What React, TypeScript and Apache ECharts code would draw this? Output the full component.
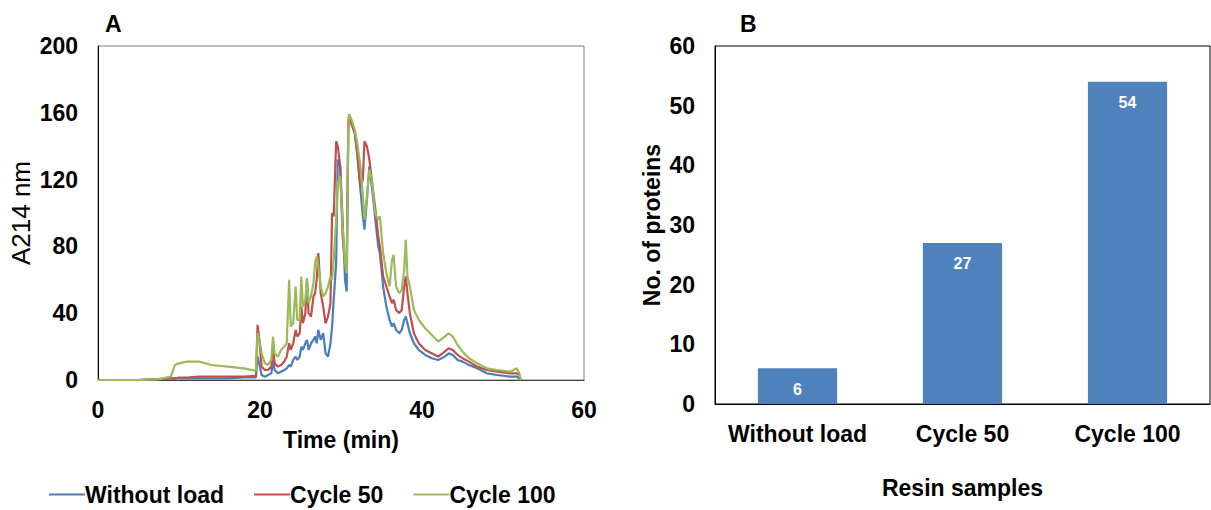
import React, { useEffect, useRef } from "react";
import * as echarts from "echarts";

// ---- Panel A data: chromatogram (Time in min, A214 nm) ----
const timeMin = [
  0, 5, 7.5, 9.0, 9.5, 10.0, 11.0, 12.5, 14.0, 16.0, 18.0, 19.5, 19.7, 19.9, 20.2, 20.6, 21.0, 21.4, 21.6, 21.8,
  22.2, 22.6, 23.0, 23.3, 23.6, 23.8, 24.1, 24.4, 24.6, 24.9, 25.1, 25.3, 25.6, 25.8, 26.0, 26.3, 26.6, 26.8, 27.0, 27.2,
  27.5, 27.8, 28.1, 28.4, 28.7, 28.9, 29.1, 29.4, 29.6, 29.9, 30.2, 30.5, 30.7, 30.9, 31.0, 31.3, 31.7, 32.0, 32.4, 32.7,
  32.9, 33.2, 33.5, 33.8, 34.2, 34.6, 34.8, 35.2, 35.6, 36.0, 36.3, 36.5, 36.8, 37.2, 37.5, 37.8, 38.0, 38.2, 38.5, 39.0,
  39.6, 40.4, 41.2, 42.0, 42.8, 43.3, 43.8, 44.4, 45.0, 45.8, 46.8, 48.0, 49.3, 50.9, 51.7, 52.0, 52.2,
];
const withoutLoad = [
  0, 0, 0.5, 1, 1, 1, 1, 1, 1, 1, 1.5, 1.5, 14, 10, 3, 2, 3, 4, 12, 6,
  4, 5, 6, 7, 9, 8, 12, 14, 12, 14, 20, 18, 22, 24, 18, 22, 24, 26, 22, 30,
  24, 28, 16, 14, 22, 32, 48, 70, 132, 128, 96, 60, 53, 150, 159, 154, 148, 136, 114, 98,
  90, 108, 128, 116, 98, 80, 76, 56, 44, 36, 32, 34, 30, 28, 30, 36, 38, 34, 28, 22,
  18, 15, 13, 12, 14, 16, 15, 12, 11, 9, 7, 4, 3, 2, 2, 1, 0,
];
const cycle50 = [
  0, 0, 0.5, 1, 1, 1.5, 1.5, 2, 2, 2, 2, 2.5, 33, 25, 8, 6, 6, 8, 22, 10,
  8, 9, 11, 14, 22, 18, 22, 30, 26, 28, 44, 34, 40, 60, 40, 38, 50, 52, 60, 76,
  52, 44, 34, 38, 46, 100, 98, 143, 140, 128, 86, 70, 68, 152, 159, 153, 148, 136, 116, 120,
  143, 140, 132, 120, 104, 86, 80, 62, 56, 50, 46, 48, 42, 40, 42, 56, 62, 52, 40, 28,
  22, 18, 16, 14, 17, 19, 18, 15, 13, 11, 8, 6, 5, 4, 4, 3, 0,
];
const cycle100 = [
  0, 0, 0.5, 2, 9, 10, 11, 11, 9, 8, 7, 5.5, 28, 25, 16, 10, 9, 12, 26, 16,
  14, 18, 20, 22, 60, 32, 34, 56, 36, 36, 62, 44, 48, 61, 46, 50, 58, 70, 74, 68,
  56, 50, 52, 56, 62, 60, 72, 96, 118, 122, 92, 70, 64, 150, 159, 156, 150, 142, 128, 110,
  96, 110, 126, 120, 100, 96, 98, 76, 64, 56, 72, 75, 56, 52, 54, 66, 84, 62, 56, 42,
  36, 31, 27, 23, 26, 28, 26, 21, 17, 13, 10, 7, 6, 5, 7, 4, 0,
];
const lineSeriesNames = ["Without load", "Cycle 50", "Cycle 100"];
const lineColors = ["#4A7EBB", "#C0504D", "#9BBB59"];

// ---- Panel B data ----
const resinSamples = ["Without load", "Cycle 50", "Cycle 100"];
const proteinCounts = [6, 27, 54];

const FONT = "'Liberation Sans', Arial, sans-serif";

export default function App() {
  const ref = useRef<HTMLDivElement>(null);

  useEffect(() => {
    if (!ref.current) return;
    const chart = echarts.init(ref.current, null, { renderer: "svg" });
    const pairs = (ys: number[]) => timeMin.map((t, i) => [t, ys[i]]);
    const lineData = [withoutLoad, cycle50, cycle100];

    const tickLabel = { color: "#000", fontSize: 23, fontWeight: "bold" as const, fontFamily: FONT };

    chart.setOption({
      animation: false,
      backgroundColor: "#fff",
      textStyle: { fontFamily: FONT },
      title: [
        { text: "A", left: 100, top: 7, textStyle: { fontSize: 23, fontWeight: "bold", color: "#000", fontFamily: FONT } },
        { text: "B", left: 735, top: 7, textStyle: { fontSize: 23, fontWeight: "bold", color: "#000", fontFamily: FONT } },
      ],
      legend: {
        data: lineSeriesNames,
        left: 44,
        top: 478,
        itemWidth: 36,
        itemHeight: 14,
        itemGap: 30,
        icon: "path://M0,6 L34,6 L34,8 L0,8 Z",
        textStyle: { color: "#000", fontSize: 23, fontWeight: "bold", fontFamily: FONT, padding: [0, 0, 0, -5] },
      },
      grid: [
        { left: 98, top: 46, width: 486, height: 334, show: true, borderColor: "#7f7f7f", borderWidth: 1, containLabel: false },
        { left: 715, top: 46, right: 1, height: 358, show: true, borderColor: "#000", borderWidth: 1, containLabel: false },
      ],
      xAxis: [
        {
          type: "value",
          gridIndex: 0,
          min: 0,
          max: 60,
          interval: 20,
          name: "Time (min)",
          nameLocation: "middle",
          nameGap: 48,
          nameTextStyle: { color: "#000", fontSize: 23, fontWeight: "bold", fontFamily: FONT },
          axisLine: { show: true, lineStyle: { color: "#404040", width: 1 } },
          axisTick: { show: false },
          splitLine: { show: false },
          axisLabel: { ...tickLabel, margin: 18 },
        },
        {
          type: "category",
          gridIndex: 1,
          data: resinSamples,
          name: "Resin samples",
          nameLocation: "middle",
          nameGap: 72,
          nameTextStyle: { color: "#000", fontSize: 23, fontWeight: "bold", fontFamily: FONT },
          axisLine: { show: true, lineStyle: { color: "#000", width: 1 } },
          axisTick: { show: false },
          axisLabel: { ...tickLabel, margin: 18, interval: 0 },
        },
      ],
      yAxis: [
        {
          type: "value",
          gridIndex: 0,
          min: 0,
          max: 200,
          interval: 40,
          name: "A214 nm",
          nameLocation: "middle",
          nameGap: 64,
          nameTextStyle: { color: "#000", fontSize: 26, fontWeight: "normal", fontFamily: FONT },
          axisLine: { show: true, lineStyle: { color: "#000", width: 1 } },
          axisTick: { show: false },
          splitLine: { show: false },
          axisLabel: { ...tickLabel, margin: 20 },
        },
        {
          type: "value",
          gridIndex: 1,
          min: 0,
          max: 60,
          interval: 10,
          name: "No. of proteins",
          nameLocation: "middle",
          nameGap: 52,
          nameTextStyle: { color: "#000", fontSize: 23, fontWeight: "bold", fontFamily: FONT },
          axisLine: { show: true, lineStyle: { color: "#000", width: 1 } },
          axisTick: { show: false },
          splitLine: { show: false },
          axisLabel: { ...tickLabel, margin: 20 },
        },
      ],
      series: [
        ...lineSeriesNames.map((name, i) => ({
          name,
          type: "line",
          xAxisIndex: 0,
          yAxisIndex: 0,
          data: pairs(lineData[i]),
          symbol: "none",
          color: lineColors[i],
          lineStyle: { color: lineColors[i], width: 2.2 },
        })),
        {
          name: "Proteins",
          type: "bar",
          xAxisIndex: 1,
          yAxisIndex: 1,
          data: proteinCounts,
          barWidth: "48%",
          itemStyle: { color: "#4F81BD" },
          label: {
            show: true,
            position: "insideTop",
            distance: 13,
            color: "#fff",
            fontSize: 16,
            fontWeight: "bold",
            fontFamily: "'Liberation Sans Narrow', 'Liberation Sans', sans-serif",
          },
        },
      ],
    });

    return () => chart.dispose();
  }, []);

  return (
    <div
      ref={ref}
      style={{ position: "fixed", left: 0, top: 0, width: 1211, height: 510, background: "#fff" }}
    />
  );
}
